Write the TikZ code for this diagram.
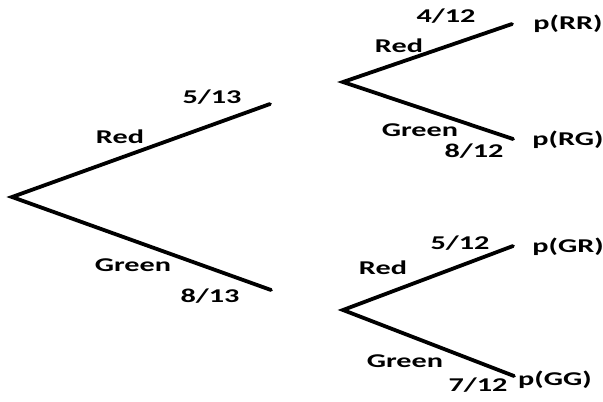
\documentclass[tikz,border=0pt]{standalone}
\usepackage{fontspec}
\newfontfamily\labfont[FakeStretch=1.55]{Carlito}
\begin{document}
\begin{tikzpicture}[x=1pt,y=-1pt,
  branch/.style={line width=3.8pt,line cap=round},
  lab/.style={font=\labfont\bfseries\fontsize{19.5}{21}\selectfont,inner sep=0pt,text=black}]
\useasboundingbox (0,0) rectangle (603,402);
% branch points
\coordinate (r) at (12,197);
\coordinate (a1) at (270,104);
\coordinate (a2) at (271,290);
\coordinate (b1) at (343,82);
\coordinate (b2) at (343,310);
\coordinate (rr) at (512,24);
\coordinate (rg) at (513,139);
\coordinate (gr) at (513,246);
\coordinate (gg) at (514,376);
% branches
\draw[branch] (a1) -- (r) -- (a2);
\draw[branch] (rr) -- (b1) -- (rg);
\draw[branch] (gr) -- (b2) -- (gg);
% first level labels
\node[lab] (l513) at (212,97) {5/13};
\node[lab] (lred1) at (120,137) {Red};
\node[lab] (lgreen1) at (133,265) {Green};
\node[lab] (l813) at (210,296) {8/13};
% upper second level
\node[lab] (l412) at (446,16) {4/12};
\node[lab] (lred2) at (399,46) {Red};
\node[lab] (lgreen2) at (420,130) {Green};
\node[lab] (l812) at (474,151) {8/12};
\node[lab] (prr) at (568,24) {p(RR)};
\node[lab] (prg) at (568,140) {p(RG)};
% lower second level
\node[lab] (l512) at (460,243) {5/12};
\node[lab] (lred3) at (383,268) {Red};
\node[lab] (lgreen3) at (405,361) {Green};
\node[lab] (l712) at (478,385) {7/12};
\node[lab] (pgr) at (568,247) {p(GR)};
\node[lab] (pgg) at (555,380) {p(GG)};
\end{tikzpicture}
\end{document}
